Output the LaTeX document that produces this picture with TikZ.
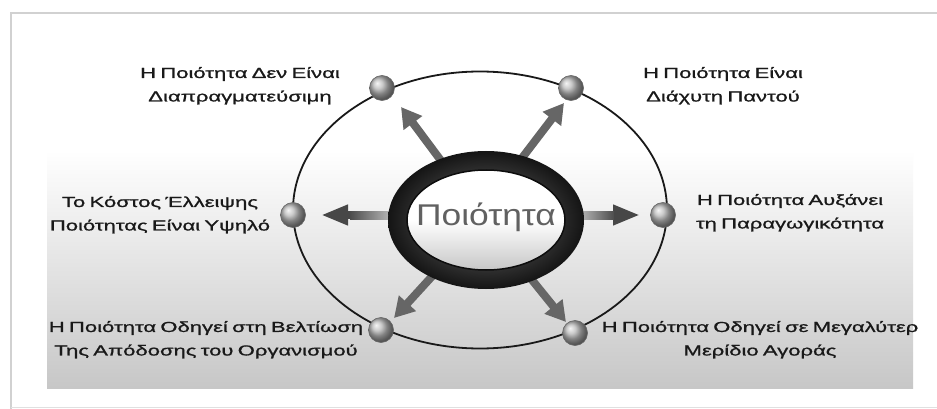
\documentclass[tikz,border=0pt]{standalone}
\usepackage{fontspec}
\setmainfont{Liberation Sans}
\newfontfamily\lblfont[FakeBold=0.8,WordSpace=0.7]{Liberation Sans}
\usepackage{graphicx}
\usetikzlibrary{shapes.geometric,arrows.meta}
\newcommand{\lbtext}[2][1.52]{\scalebox{#1}[1]{\begin{tabular}{@{}c@{}}#2\end{tabular}}}
\tikzset{
  lbl/.style={align=center, text=black!90, font=\lblfont\fontsize{14.5}{23.5}\selectfont, inner sep=0pt},
  sphere/.style={circle, minimum size=25pt, inner sep=0pt, ball color=gray!55, draw=black!60, line width=0.6pt},
  spoke/.style={line width=8pt, draw=black!60, -{Triangle[length=20pt,width=22pt]}},
  hspoke/.style={line width=8pt, draw=black!72, -{Triangle[length=27pt,width=19pt]}},
}
\begin{document}
\begin{tikzpicture}[x=1pt,y=-1pt]
\useasboundingbox (0,0) rectangle (937,409);
\fill[white] (0,0) rectangle (937,409);
% frame
\draw[black!18, line width=1.2pt] (11,409) -- (11,13) -- (937,13);
\draw[black!12, line width=1pt] (11,407) -- (937,407);
% panel
\fill[white] (47,47) rectangle (913,150);
\shade[top color=white, bottom color=black!22] (47,150) rectangle (913,388);
% orbit
\node[draw=black!90, line width=1.8pt, ellipse, minimum width=374pt, minimum height=277pt, inner sep=0pt] (orbit) at (480,210) {};
% arrow coordinates
\coordinate (sL) at (400,215); \coordinate (tL) at (321,215);
\coordinate (sR) at (572,215); \coordinate (tR) at (640,215);
\coordinate (sUL) at (442,162); \coordinate (tUL) at (401,107);
\coordinate (sUR) at (522,158); \coordinate (tUR) at (564,103);
\coordinate (sDL) at (436,272); \coordinate (tDL) at (394,318);
\coordinate (sDR) at (528,275); \coordinate (tDR) at (566,322);
\draw[spoke] (sUL) -- (tUL);
\draw[spoke] (sUR) -- (tUR);
\draw[spoke] (sDL) -- (tDL);
\draw[spoke] (sDR) -- (tDR);
\draw[hspoke] (sL) -- (tL);
\draw[hspoke] (sR) -- (tR);
\shade[left color=black!70, right color=black!18] (350,211) rectangle (400,219);
\shade[left color=black!18, right color=black!70] (572,211) rectangle (614,219);
% central ring
\node[ellipse, minimum width=196pt, minimum height=138pt, inner sep=0pt, shading=radial, inner color=black!55, outer color=black!92] (ringout) at (486,220) {};
\node[ellipse, minimum width=158pt, minimum height=100pt, inner sep=0pt, draw=black!95, line width=1.5pt, top color=white, bottom color=black!22, middle color=white] (ringin) at (486,220) {};
\node[text=black!62, font=\fontsize{30}{31}\selectfont, inner sep=0pt] (q) at (486,217) {\scalebox{1.18}[1]{Ποιότητα}};
% spheres
\node[sphere] (nUL) at (382,88) {};
\node[sphere] (nUR) at (571,88) {};
\node[sphere] (nL) at (293,215) {};
\node[sphere] (nR) at (663,215) {};
\node[sphere] (nDL) at (381,330) {};
\node[sphere] (nDR) at (575,333) {};
% labels
\node[lbl] (lUL) at (240,85) {\lbtext{Η Ποιότητα Δεν Είναι\\Διαπραγματεύσιμη}};
\node[lbl] (lUR) at (723,85) {\lbtext{Η Ποιότητα Είναι\\Διάχυτη Παντού}};
\node[lbl] (lL) at (160,214) {\lbtext{Το Κόστος Έλλειψης\\Ποιότητας Είναι Υψηλό}};
\node[lbl] (lR) at (790,212) {\lbtext{Η Ποιότητα Αυξάνει\\τη Παραγωγικότητα}};
\node[lbl] (lDL) at (206,339) {\lbtext{Η Ποιότητα Οδηγεί στη Βελτίωση\\Της Απόδοσης του Οργανισμού}};
\node[lbl] (lDR) at (760,339) {\lbtext{Η Ποιότητα Οδηγεί σε Μεγαλύτερ\\Μερίδιο Αγοράς}};
\end{tikzpicture}
\end{document}
